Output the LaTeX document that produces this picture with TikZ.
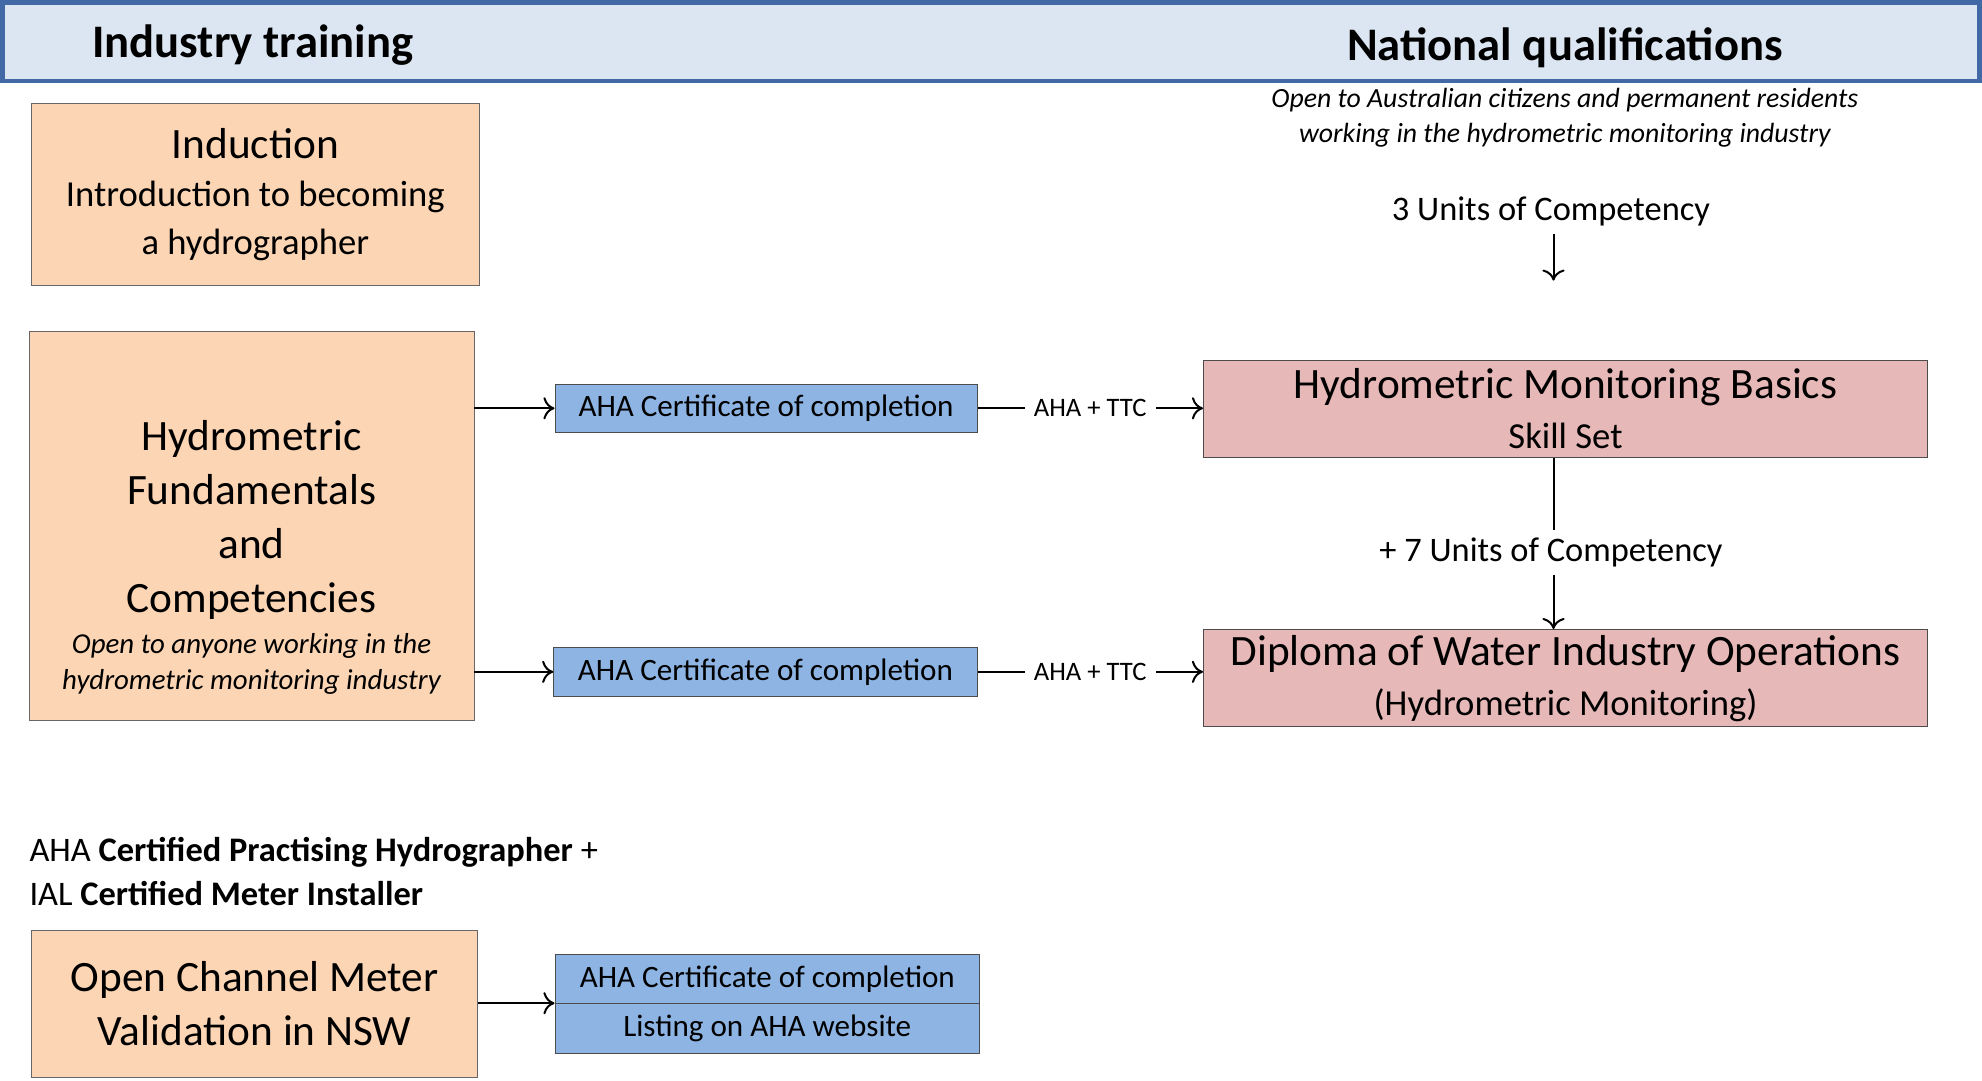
\documentclass[tikz,border=0pt]{standalone}
\usepackage{fontspec}
\setmainfont{Carlito}
\usetikzlibrary{arrows,arrows.meta}
\definecolor{headfill}{RGB}{220,230,242}
\definecolor{headline}{RGB}{65,105,165}
\definecolor{peach}{RGB}{252,213,180}
\definecolor{bluebox}{RGB}{141,180,226}
\definecolor{pinkbox}{RGB}{230,184,183}
\tikzset{
  trainbox/.style={draw=black!60, fill=peach, align=center, inner sep=0},
  certbox/.style={draw=black!70, fill=bluebox, align=center, inner sep=0, font=\fontsize{14}{16}\selectfont},
  qualbox/.style={draw=black!70, fill=pinkbox, align=center, inner sep=0, minimum width=11.46cm, minimum height=1.54cm,
    font=\fontsize{16.5}{22.5}\selectfont},
  arr/.style={black, line width=0.9pt, -{To[length=5pt,width=10pt]}},
  ttc/.style={fill=white, inner sep=4pt, font=\fontsize{12}{14}\selectfont}
}
\newcommand\bigtxt{\fontsize{19.5}{24}\selectfont}
\newcommand\midtxt{\fontsize{16.5}{21}\selectfont}
\begin{document}
\begin{tikzpicture}[x=0.02cm, y=-0.02cm]
\useasboundingbox (0,0) rectangle (1568,855);
% header
\draw[headline, line width=2pt, fill=headfill] (2,2) rectangle (1566,64);
\node[font=\fontsize{21}{25}\selectfont\bfseries] (trainhead) at (200,36) {Industry training};
\node[font=\fontsize{21}{25}\selectfont\bfseries] (qualhead) at (1238,38) {National qualifications};
\node[align=center, font=\fontsize{12.5}{16}\itshape] (open) at (1238,93)
  {Open to Australian citizens and permanent residents\\working in the hydrometric monitoring industry};
% industry training
\node[trainbox, minimum width=7.08cm, minimum height=2.88cm, font=\fontsize{16.5}{21.5}\selectfont] (induct) at (202,154)
  {{\bigtxt Induction}\\{\midtxt Introduction to becoming}\\{\midtxt a hydrographer}};
\node[trainbox, minimum width=7.04cm, minimum height=6.16cm] (fund) at (199,416) {};
\node[align=center, font=\fontsize{19.5}{24.4}\selectfont] (fundtext) at (199,441)
  {Hydrometric\\Fundamentals\\and\\Competencies\\[-6pt]
   {\fontsize{13}{16}\selectfont\itshape Open to anyone working in the}\\[-8pt]{\fontsize{13}{16}\selectfont\itshape hydrometric monitoring industry}};
\node[anchor=north west, align=left, font=\fontsize{15.5}{19.8}\selectfont, inner sep=0] (certnote) at (23,662)
  {AHA \textbf{Certified Practising Hydrographer} +\\IAL \textbf{Certified Meter Installer}};
\node[trainbox, minimum width=7.06cm, minimum height=2.32cm, font=\fontsize{19.5}{24.4}\selectfont] (meter) at (201.5,794)
  {Open Channel Meter\\Validation in NSW};
% certificates
\node[certbox, minimum width=6.68cm, minimum height=0.76cm] (cert1) at (606,323) {AHA Certificate of completion};
\node[certbox, minimum width=6.7cm, minimum height=0.78cm] (cert2) at (605.5,531.5) {AHA Certificate of completion};
\node[certbox, minimum width=6.72cm, minimum height=0.78cm] (cert3) at (607,774.5) {AHA Certificate of completion};
\node[certbox, minimum width=6.72cm, minimum height=0.78cm] (listing) at (607,813.5) {Listing on AHA website};
% qualifications
\node[qualbox] (basics) at (1238.5,323.5)
  {{\bigtxt Hydrometric Monitoring Basics}\\{\midtxt Skill Set}};
\node[qualbox] (diploma) at (1238.5,536.5)
  {{\bigtxt Diploma of Water Industry Operations}\\{\midtxt (Hydrometric Monitoring)}};
\node[font=\fontsize{15.5}{18}\selectfont] (three) at (1227,167) {3 Units of Competency};
\node[font=\fontsize{15.5}{18}\selectfont] (seven) at (1227,437) {+ 7 Units of Competency};
% connectors
\draw[arr] (fund.east |- cert1) -- (cert1.west);
\draw[arr] (fund.east |- cert2) -- (cert2.west);
\draw[arr] (meter.east |- listing.north) -- (listing.north west);
\draw[arr] (cert1.east) -- node[ttc] {AHA + TTC} (basics.west |- cert1);
\draw[arr] (cert2.east) -- node[ttc] {AHA + TTC} (diploma.west |- cert2);
\draw[arr] (three.south -| 1229,0) -- (1229,222);
\draw[line width=0.9pt] (basics.south -| 1229,0) -- (seven.north -| 1229,0);
\draw[arr] (seven.south -| 1229,0) -- (diploma.north -| 1229,0);
\end{tikzpicture}
\end{document}
